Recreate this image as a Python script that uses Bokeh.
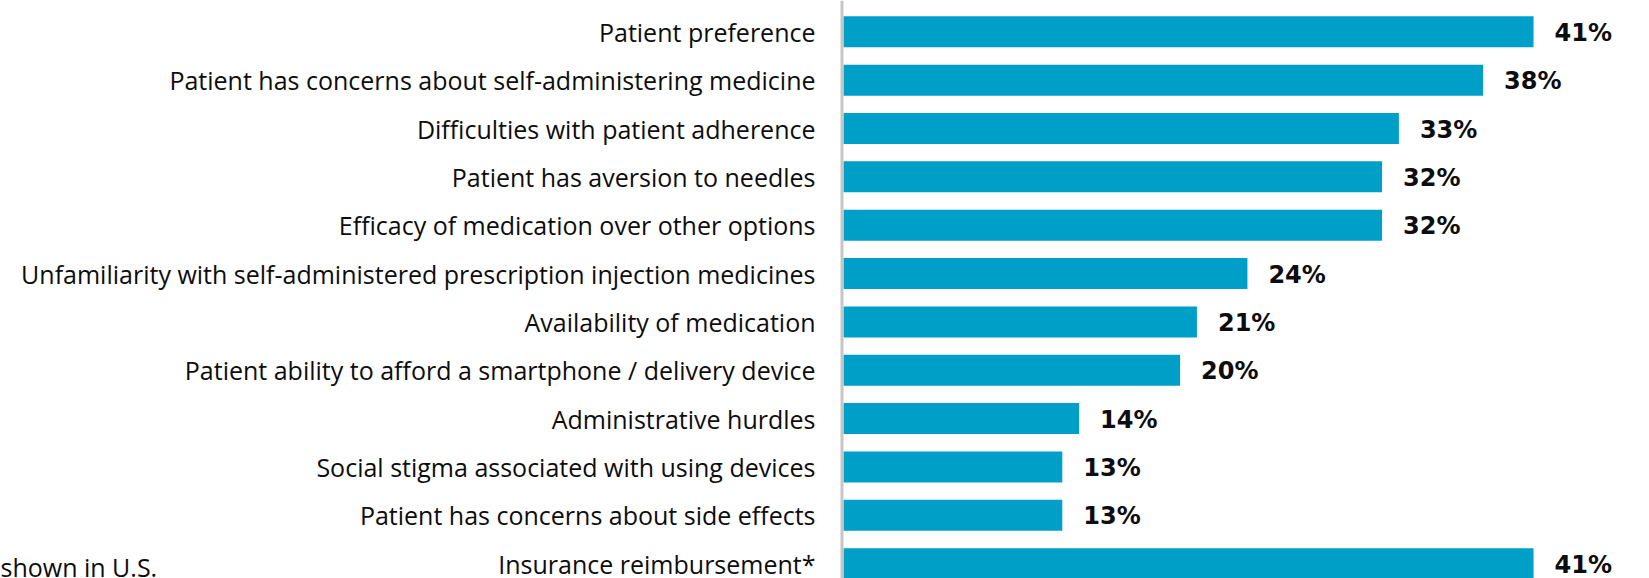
from bokeh.plotting import figure
from bokeh.models import Range1d, ColumnDataSource, Span
from bokeh.core.properties import value
from bokeh.embed import file_html
from bokeh.resources import INLINE

categories = [
    "Patient preference",
    "Patient has concerns about self-administering medicine",
    "Difficulties with patient adherence",
    "Patient has aversion to needles",
    "Efficacy of medication over other options",
    "Unfamiliarity with self-administered prescription injection medicines",
    "Availability of medication",
    "Patient ability to afford a smartphone / delivery device",
    "Administrative hurdles",
    "Social stigma associated with using devices",
    "Patient has concerns about side effects",
    "Insurance reimbursement*",
]
values = [41, 38, 33, 32, 32, 24, 21, 20, 14, 13, 13, 41]
value_labels = [f"{v}%" for v in values]
footnote = "shown in U.S."

rows = list(range(len(categories)))
src = ColumnDataSource(dict(row=rows, val=values, lab=value_labels, cat=categories,
                            zero=[0] * len(rows)))

W, H = 1649, 578
X0 = 843          # pixel where value 0 sits
PX = 16.83        # pixels per percentage point
ROW0, ROWH = 31.3, 48.35
xr = Range1d(-X0 / PX, (W - X0) / PX)
yr = Range1d((H - ROW0) / ROWH, -ROW0 / ROWH)

p = figure(width=W, height=H, output_backend="svg", toolbar_location=None,
           x_range=xr, y_range=yr,
           min_border_left=0, min_border_right=0, min_border_top=0, min_border_bottom=0)
p.outline_line_color = None
p.background_fill_color = "white"
p.border_fill_color = "white"
p.grid.visible = False
p.axis.visible = False

p.hbar(y="row", left=0, right="val", height=0.641, source=src,
       fill_color="#009FC7", line_color=None)

# category axis line
p.add_layout(Span(location=-1.5 / PX, dimension="height",
                  line_color="#c6c6c6", line_width=3))

# category labels
p.text(x="zero", y="row", text="cat", source=src, x_offset=-28, y_offset=0,
       text_font=value("Open Sans"), text_font_size="25px",
       text_color="#0d0d0d", text_baseline="middle", text_align="right")

# value labels
p.text(x="val", y="row", text="lab", source=src, x_offset=21, y_offset=1,
       text_font=value("DejaVu Sans"), text_font_style="bold", text_font_size="24px",
       text_color="#0d0d0d", text_baseline="middle", text_align="left")

# partial footnote at bottom-left
p.text(x=[xr.start], y=[rows[-1]], text=[footnote], x_offset=0, y_offset=3,
       text_font=value("Open Sans"), text_font_size="25px",
       text_color="#0d0d0d", text_baseline="alphabetic", text_align="left")

open("out.html", "w").write(file_html(p, INLINE))
